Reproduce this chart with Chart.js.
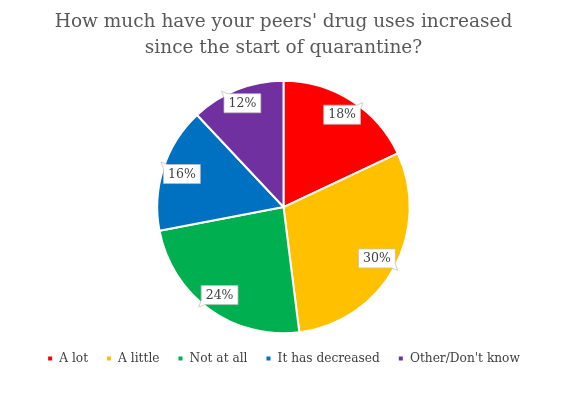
<!DOCTYPE html>
<html>
<head>
<meta charset="utf-8">
<title>Peers' drug use since quarantine</title>
<script src="https://cdn.jsdelivr.net/npm/chart.js@4/dist/chart.umd.min.js"></script>
<style>
  html, body { margin: 0; padding: 0; background: #fff; }
  #wrap { width: 567px; height: 404px; }
</style>
</head>
<body>
<div id="wrap"><canvas id="chart"></canvas></div>
<script>
const categories = ['A lot', 'A little', 'Not at all', 'It has decreased', "Other/Don't know"];
const shares = [18, 30, 24, 16, 12];
const titleLines = ["How much have your peers' drug uses increased", 'since the start of quarantine?'];

const sliceColours = ['#FF0000', '#FFC000', '#00B050', '#0070C0', '#7030A0'];
const serif = "'DejaVu Serif', Georgia, serif";

// white callout boxes with the percentage, sitting near the outer edge of each slice
const calloutLabels = {
  id: 'calloutLabels',
  afterDatasetsDraw(chart) {
    const ctx = chart.ctx;
    const meta = chart.getDatasetMeta(0);
    ctx.save();
    ctx.font = '12.5px ' + serif;
    ctx.textAlign = 'center';
    ctx.textBaseline = 'middle';
    meta.data.forEach((arc, i) => {
      const p = arc.getProps(['x', 'y', 'startAngle', 'endAngle', 'outerRadius'], true);
      const mid = (p.startAngle + p.endAngle) / 2;
      const dx = Math.cos(mid), dy = Math.sin(mid);
      const text = shares[i] + '%';
      const w = ctx.measureText(text).width + 9;
      const h = 19;
      const offset = Math.abs(dx) * w / 2 + Math.abs(dy) * h / 2 - 1;
      const cx = p.x + dx * (p.outerRadius - offset);
      const cy = p.y + dy * (p.outerRadius - offset);

      const sx = dx >= 0 ? 1 : -1, sy = dy >= 0 ? 1 : -1;
      const corners = [[-1, -1], [1, -1], [1, 1], [-1, 1]];
      const k = corners.findIndex(c => c[0] === sx && c[1] === sy);
      const pts = [];
      corners.forEach((c, j) => {
        const x = cx + c[0] * w / 2, y = cy + c[1] * h / 2;
        if (j !== k) { pts.push([x, y]); return; }
        const prev = corners[(j + 3) % 4], next = corners[(j + 1) % 4];
        const px = cx + prev[0] * w / 2, py = cy + prev[1] * h / 2;
        const nx = cx + next[0] * w / 2, ny = cy + next[1] * h / 2;
        const l1 = Math.hypot(x - px, y - py), l2 = Math.hypot(nx - x, ny - y);
        pts.push([x + (px - x) * 4 / l1, y + (py - y) * 4 / l1]);
        pts.push([x + sx * 2.5, y + sy * 2.5]);
        pts.push([x + (nx - x) * 4 / l2, y + (ny - y) * 4 / l2]);
      });
      ctx.beginPath();
      pts.forEach((q, j) => j ? ctx.lineTo(q[0], q[1]) : ctx.moveTo(q[0], q[1]));
      ctx.closePath();
      ctx.fillStyle = '#ffffff';
      ctx.fill();
      ctx.lineWidth = 0.75;
      ctx.strokeStyle = '#bfbfbf';
      ctx.stroke();
      ctx.fillStyle = '#404040';
      ctx.fillText(text, cx, cy + 0.5);
    });
    ctx.restore();
  }
};

new Chart(document.getElementById('chart'), {
  type: 'pie',
  data: {
    labels: categories,
    datasets: [{
      data: shares,
      backgroundColor: sliceColours,
      borderColor: '#ffffff',
      borderWidth: 2
    }]
  },
  options: {
    responsive: true,
    maintainAspectRatio: false,
    animation: false,
    layout: { padding: { top: 0, bottom: 29.5, left: 0, right: 0 } },
    plugins: {
      title: {
        display: true,
        text: titleLines,
        color: '#595959',
        font: { family: serif, size: 18.5, weight: 'normal', lineHeight: 1.4 },
        padding: { top: 9, bottom: 19 }
      },
      legend: {
        position: 'bottom',
        labels: {
          boxWidth: 6,
          boxHeight: 6,
          padding: 18,
          color: '#404040',
          font: { family: serif, size: 12.2 }
        }
      },
      tooltip: { enabled: false }
    }
  },
  plugins: [calloutLabels]
});
</script>
</body>
</html>
